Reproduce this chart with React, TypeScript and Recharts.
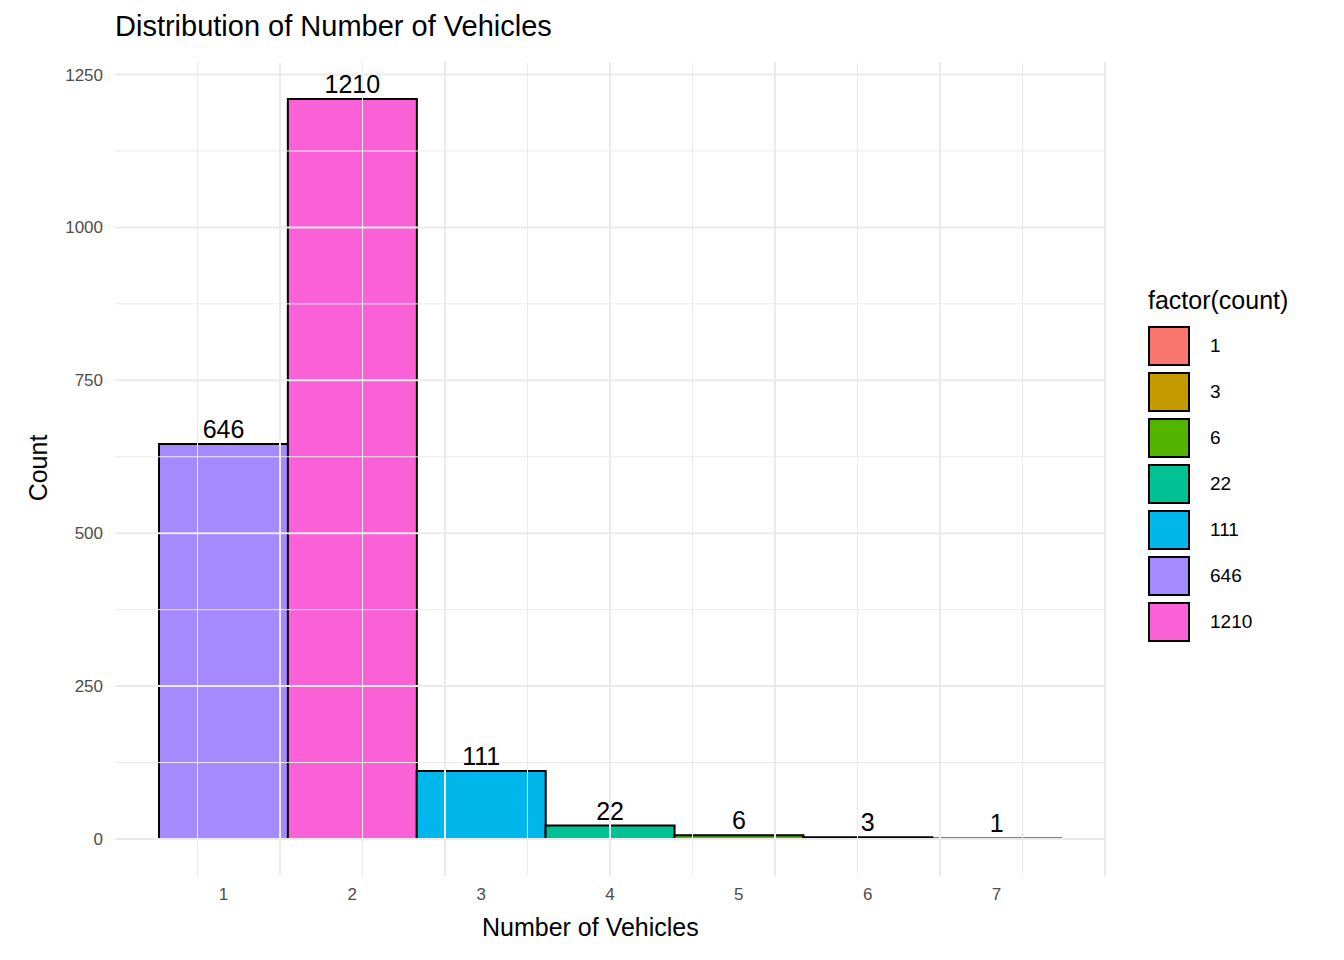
import { BarChart, Bar, XAxis, YAxis, Cell, LabelList, ReferenceLine } from 'recharts';

const vehicles = ['1', '2', '3', '4', '5', '6', '7'];
const counts = [646, 1210, 111, 22, 6, 3, 1];
const legendLevels = [1, 3, 6, 22, 111, 646, 1210];
const levelColors = ['#F8766D', '#C49A00', '#53B400', '#00C094', '#00B6EB', '#A58AFF', '#FB61D7'];
const yTicks = [0, 250, 500, 750, 1000, 1250];
const yMinor = [125, 375, 625, 875, 1125];
const xMinor = [0.5, 1.5, 2.5, 3.5, 4.5, 5.5, 6.5, 7.5];

const data = vehicles.map((v, i) => ({ v, count: counts[i] }));
const colorOf = (c: number) => levelColors[legendLevels.indexOf(c)];
const font = '"Liberation Sans", Arial, sans-serif';

export default function App() {
  return (
    <div style={{ position: 'absolute', left: 0, top: 0, width: 1344, height: 960, background: '#fff', fontFamily: font }}>
      <div style={{ position: 'absolute', left: 115, top: 10, fontSize: 29, color: '#000' }}>
        Distribution of Number of Vehicles
      </div>
      <div style={{ position: 'absolute', left: 482, top: 913, fontSize: 25, color: '#000' }}>Number of Vehicles</div>
      <div style={{ position: 'absolute', left: 38, top: 468, fontSize: 25, color: '#000', transform: 'translate(-50%,-50%) rotate(-90deg)' }}>
        Count
      </div>
      <BarChart
        width={1344}
        height={960}
        data={data}
        barCategoryGap={0}
        margin={{ top: 62, right: 239, left: 55, bottom: 54 }}
      >
        <XAxis xAxisId="n" type="number" domain={[0.15, 7.85]} hide />
        {yMinor.map((y) => (
          <ReferenceLine key={'ym' + y} y={y} stroke="#ebebeb" strokeWidth={1} />
        ))}
        {yTicks.map((y) => (
          <ReferenceLine key={'y' + y} y={y} stroke="#ebebeb" strokeWidth={2} />
        ))}
        {xMinor.map((x) => (
          <ReferenceLine key={'xm' + x} xAxisId="n" x={x} stroke="#ebebeb" strokeWidth={1} />
        ))}
        {[1, 2, 3, 4, 5, 6, 7].map((x) => (
          <ReferenceLine key={'x' + x} xAxisId="n" x={x} stroke="#ebebeb" strokeWidth={2} />
        ))}
        <XAxis
          dataKey="v"
          padding={{ left: 44, right: 44 }}
          axisLine={false}
          tickLine={false}
          height={30}
          tick={{ fill: '#4d4d4d', fontSize: 17, fontFamily: font }}
          tickMargin={6}
        />
        <YAxis
          domain={[-60.5, 1270.5]}
          ticks={yTicks}
          width={60}
          axisLine={false}
          tickLine={false}
          tick={{ fill: '#4d4d4d', fontSize: 17, fontFamily: font }}
          tickMargin={6}
        />
        <Bar dataKey="count" stroke="#000" strokeWidth={2} isAnimationActive={false}>
          {data.map((d) => (
            <Cell key={d.v} fill={colorOf(d.count)} />
          ))}
          <LabelList dataKey="count" position="top" offset={6} fill="#000" fontSize={25} fontFamily={font} />
        </Bar>
      </BarChart>
      <div style={{ position: 'absolute', left: 1148, top: 286 }}>
        <div style={{ fontSize: 25, color: '#000', marginBottom: 8 }}>factor(count)</div>
        {legendLevels.map((l, i) => (
          <div key={l} style={{ display: 'flex', alignItems: 'center', height: 46 }}>
            <div style={{ width: 42, height: 40, boxSizing: 'border-box', border: '2px solid #000', background: levelColors[i] }} />
            <span style={{ marginLeft: 20, fontSize: 19, color: '#000' }}>{l}</span>
          </div>
        ))}
      </div>
    </div>
  );
}
